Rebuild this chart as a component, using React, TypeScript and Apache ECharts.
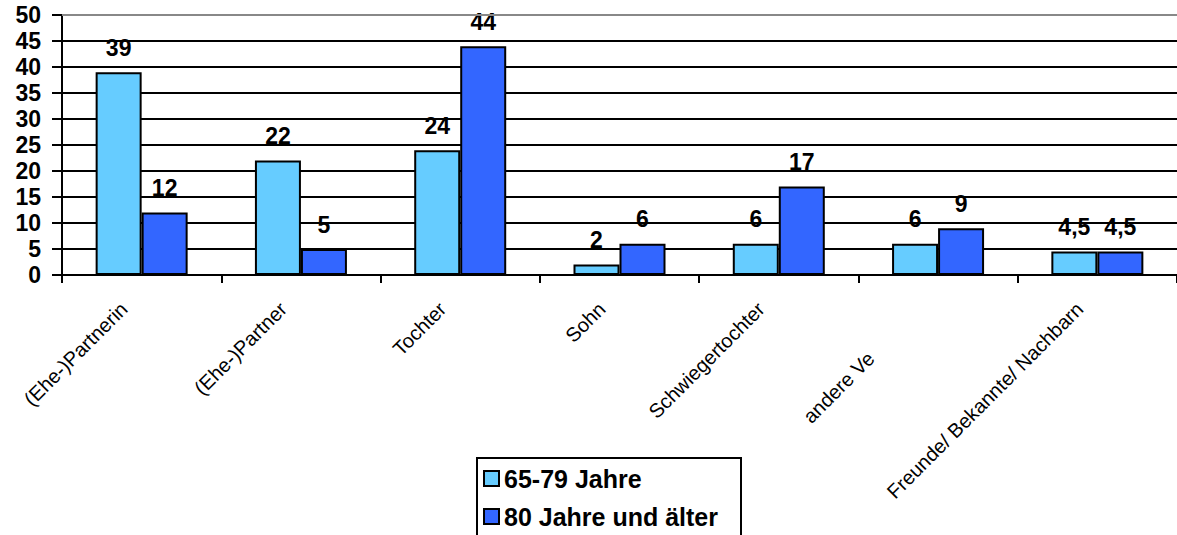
import React, { useEffect, useRef } from "react";
import * as echarts from "echarts";

const categories = [
  "(Ehe-)Partnerin",
  "(Ehe-)Partner",
  "Tochter",
  "Sohn",
  "Schwiegertochter",
  "andere Ve",
  "Freunde/ Bekannte/ Nachbarn",
];
const seriesNames = ["65-79 Jahre", "80 Jahre und älter"];
const young = [39, 22, 24, 2, 6, 6, 4.5];
const old = [12, 5, 44, 6, 17, 9, 4.5];
const yMin = 0;
const yMax = 50;
const yStep = 5;

const FONT = "Liberation Sans, Arial, sans-serif";

export default function App() {
  const ref = useRef<HTMLDivElement>(null);
  useEffect(() => {
    if (!ref.current) return;
    const chart = echarts.init(ref.current, undefined, { renderer: "svg" });
    const labelStyle = {
      show: true,
      position: "top" as const,
      distance: 13,
      color: "#000",
      fontFamily: FONT,
      fontWeight: "bold" as const,
      fontSize: 23,
      formatter: (p: any) => String(p.value).replace(".", ","),
    };
    chart.setOption({
      animation: false,
      backgroundColor: "#ffffff",
      grid: { left: 62, right: -5, top: 15, bottom: 260, containLabel: false },
      legend: {
        orient: "vertical",
        left: 477,
        top: 458,
        padding: [8, 6, 6, 6],
        itemWidth: 15,
        itemHeight: 15,
        itemGap: 13,
        icon: "rect",
        itemStyle: { borderColor: "#000", borderWidth: 2 },
        textStyle: { color: "#000", fontFamily: FONT, fontWeight: "bold", fontSize: 25 },
        data: seriesNames,
      },
      graphic: [
        {
          type: "rect",
          shape: { x: 477, y: 458, width: 264, height: 100 },
          style: { fill: "none", stroke: "#000", lineWidth: 2 },
          z: 10,
        },
      ],
      xAxis: {
        type: "category",
        data: categories,
        axisLine: { show: true, lineStyle: { color: "#000", width: 2 } },
        axisTick: { show: true, length: 8, lineStyle: { color: "#000", width: 2 } },
        axisLabel: {
          rotate: 45,
          margin: 13,
          interval: 0,
          color: "#000",
          fontFamily: FONT,
          fontSize: 20,
          formatter: (v: string, i: number) => (i === 5 ? `{b|${v}}` : `{a|${v}}`),
          rich: {
            a: { fontFamily: FONT, fontSize: 20, color: "#000", padding: [0, 25, 0, 0] },
            b: { fontFamily: FONT, fontSize: 20, color: "#000", padding: [0, 95, 0, 0] },
          },
        },
      },
      yAxis: {
        type: "value",
        min: yMin,
        max: yMax,
        interval: yStep,
        axisLine: { show: true, lineStyle: { color: "#000", width: 2 } },
        axisTick: { show: true, length: 10, lineStyle: { color: "#000", width: 2 } },
        axisLabel: {
          margin: 21,
          color: "#000",
          fontFamily: FONT,
          fontWeight: "bold",
          fontSize: 23,
        },
        splitLine: { show: true, showMaxLine: false, lineStyle: { color: "#000", width: 2 } },
      },
      series: [
        {
          name: seriesNames[0],
          type: "bar",
          data: young,
          barWidth: 46,
          barGap: "0%",
          itemStyle: { color: "#66CCFF", borderColor: "#000", borderWidth: 2 },
          label: labelStyle,
          markLine: {
            silent: true,
            symbol: "none",
            label: { show: false },
            lineStyle: { color: "#888888", width: 2, type: "solid" },
            data: [{ yAxis: yMax }],
          },
        },
        {
          name: seriesNames[1],
          type: "bar",
          data: old,
          barWidth: 46,
          barGap: "0%",
          itemStyle: { color: "#3366FF", borderColor: "#000", borderWidth: 2 },
          label: labelStyle,
        },
      ],
    });
    return () => chart.dispose();
  }, []);
  return (
    <div
      ref={ref}
      style={{ position: "fixed", left: 0, top: 0, width: 1177, height: 535, background: "#fff" }}
    />
  );
}
